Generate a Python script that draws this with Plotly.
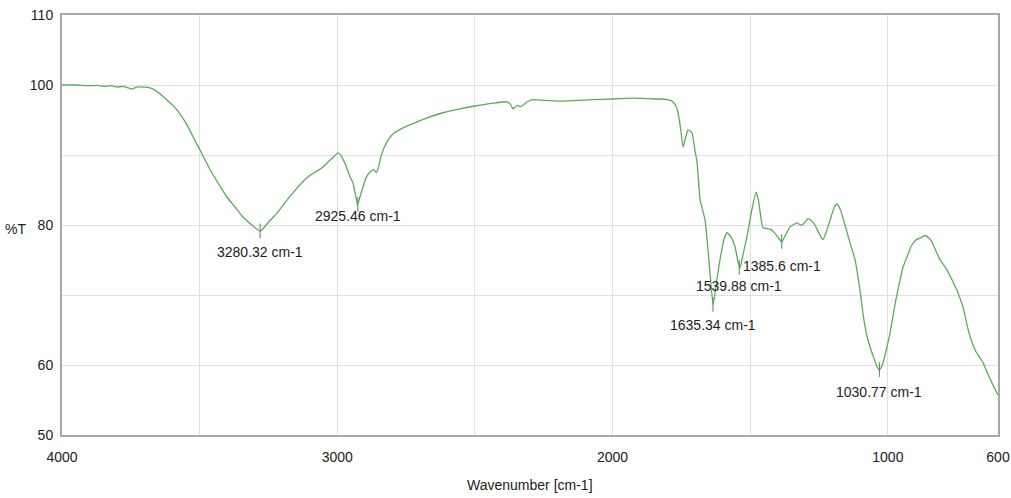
import plotly.graph_objects as go

# ---- data ----
wavenumber = [4000, 3950, 3900, 3870, 3850, 3820, 3800, 3780, 3760, 3745, 3730, 3700, 3680,
              3660, 3640, 3620, 3600, 3582, 3550, 3524, 3500, 3462, 3430, 3401, 3370, 3342,
              3310, 3280, 3250, 3219, 3190, 3161, 3130, 3099, 3070, 3052, 3020, 2997, 2985,
              2970, 2954, 2943, 2935, 2926, 2918, 2910, 2895, 2880, 2868, 2858, 2850, 2840,
              2819, 2798, 2770, 2736, 2700, 2674, 2620, 2554, 2500, 2434, 2384, 2370, 2362,
              2352, 2344, 2336, 2329, 2310, 2289, 2250, 2191, 2130, 2071, 2000, 1948, 1900,
              1850, 1828, 1800, 1784, 1770, 1762, 1752, 1744, 1736, 1726, 1718, 1711, 1700,
              1693, 1682, 1664, 1650, 1635, 1620, 1610, 1595, 1584, 1570, 1555, 1545, 1537,
              1525, 1512, 1495, 1479, 1470, 1465, 1454, 1440, 1428, 1410, 1395, 1385, 1370,
              1356, 1340, 1330, 1318, 1308, 1290, 1278, 1265, 1250, 1236, 1222, 1210, 1195,
              1185, 1175, 1165, 1156, 1140, 1119, 1099, 1090, 1075, 1060, 1050, 1042, 1036,
              1031, 1025, 1018, 1005, 992, 980, 970, 956, 945, 931, 915, 900, 880, 865, 850,
              840, 829, 810, 785, 765, 749, 735, 727, 713, 700, 680, 665, 654, 640, 620, 604,
              600]
transmittance = [100.0, 100.0, 99.9, 99.95, 99.8, 99.9, 99.7, 99.8, 99.6, 99.4, 99.7, 99.7, 99.6,
                 99.2, 98.6, 97.9, 97.2, 96.4, 94.6, 92.6, 90.8, 87.9, 85.8, 84.0, 82.5, 81.1,
                 80.0, 79.1, 80.4, 81.7, 83.2, 84.6, 86.0, 87.1, 87.8, 88.3, 89.5, 90.3, 89.8,
                 88.6, 86.9, 86.0, 84.5, 82.9, 84.0, 85.0, 86.8, 87.6, 87.9, 87.5, 88.3, 90.0,
                 91.9, 93.0, 93.7, 94.3, 94.9, 95.3, 96.0, 96.6, 97.0, 97.4, 97.6, 97.2, 96.6,
                 96.9, 97.1, 96.9, 97.0, 97.6, 97.9, 97.8, 97.7, 97.8, 97.9, 98.0, 98.1, 98.1,
                 98.0, 98.0, 97.9, 97.7, 97.0, 96.0, 93.5, 91.1, 92.3, 93.6, 93.4, 93.1, 90.5,
                 88.9, 83.6, 80.7, 75.0, 68.6, 72.5, 75.0, 78.0, 78.9, 78.3, 76.9, 74.8, 73.9,
                 76.0, 78.3, 82.0, 84.7, 83.5, 82.1, 79.6, 79.5, 79.4, 78.8, 78.0, 77.6, 78.7,
                 79.7, 80.1, 80.3, 80.0, 80.1, 80.9, 80.6, 80.0, 78.8, 77.9, 79.2, 80.7, 82.5,
                 83.0, 82.4, 81.3, 80.0, 77.8, 75.0, 70.0, 67.2, 64.0, 62.0, 60.9, 60.0, 59.5,
                 59.3, 59.6, 60.3, 62.3, 64.6, 67.3, 69.5, 72.1, 74.0, 75.4, 77.0, 77.8, 78.2,
                 78.5, 78.1, 77.6, 76.6, 75.0, 73.6, 72.0, 70.7, 69.2, 68.3, 65.8, 63.9, 61.9,
                 61.0, 60.3, 59.0, 57.3, 56.0, 55.7]

peak_wn = [3280.32, 2925.46, 1635.34, 1539.88, 1385.6, 1030.77]
peak_t = [79.1, 82.9, 68.6, 73.9, 77.6, 59.3]
peak_labels = ["3280.32 cm-1", "2925.46 cm-1", "1635.34 cm-1", "1539.88 cm-1", "1385.6 cm-1", "1030.77 cm-1"]
peak_label_dy = [-21, -11, -20, -18, -24, -22]

x_ticks = [4000, 3000, 2000, 1000, 600]
x_minor = [3500, 2500, 1500]
y_ticks = [50, 60, 80, 100, 110]
y_minor = [70, 90]

LINE = "#5cab5c"
FONT = "Liberation Sans, Arial, sans-serif"

fig = go.Figure()
fig.add_trace(go.Scatter(x=wavenumber, y=transmittance, mode="lines",
                         line=dict(color=LINE, width=1.3, shape="spline", smoothing=0.4),
                         hoverinfo="skip"))

# short peak marker lines
mx, my = [], []
for w, t in zip(peak_wn, peak_t):
    mx += [w, w, None]
    my += [t + 1.1, t - 1.0, None]
fig.add_trace(go.Scatter(x=mx, y=my, mode="lines", line=dict(color="#4e8f4e", width=1),
                         hoverinfo="skip"))

for w, t, lab, dy in zip(peak_wn, peak_t, peak_labels, peak_label_dy):
    fig.add_annotation(x=w, y=t, text=lab, showarrow=False, xref="x", yref="y",
                       yshift=dy, font=dict(family=FONT, size=14, color="#222"))

fig.add_annotation(text="%T", xref="paper", yref="y", x=0, y=80, xanchor="right",
                   xshift=-34, yshift=-4, showarrow=False,
                   font=dict(family=FONT, size=14, color="#222"))
fig.add_annotation(text="Wavenumber [cm-1]", xref="paper", yref="paper", x=0.5, y=0,
                   yanchor="middle", yshift=-50, showarrow=False,
                   font=dict(family=FONT, size=14, color="#222"))

fig.update_layout(
    width=1011, height=498,
    margin=dict(l=62, r=13, t=15, b=63, autoexpand=False),
    paper_bgcolor="white", plot_bgcolor="white",
    showlegend=False,
    xaxis=dict(range=[4000, 600], tickvals=x_ticks, showgrid=True, gridcolor="#e0e0e0",
               gridwidth=1, zeroline=False, showline=True, mirror=True, linecolor="#a8a8a8",
               linewidth=2, ticks="", ticklabelstandoff=8, automargin=False,
               tickfont=dict(family=FONT, size=14, color="#222"),
               minor=dict(tickvals=x_minor, showgrid=True, gridcolor="#e0e0e0", gridwidth=1)),
    yaxis=dict(range=[50, 110], tickvals=y_ticks, showgrid=True, gridcolor="#e0e0e0",
               gridwidth=1, zeroline=False, showline=True, mirror=True, linecolor="#a8a8a8",
               linewidth=2, ticks="", ticklabelstandoff=4, automargin=False,
               tickfont=dict(family=FONT, size=14, color="#222"),
               minor=dict(tickvals=y_minor, showgrid=True, gridcolor="#e0e0e0", gridwidth=1)),
)

fig.write_html("out.html", config={"displayModeBar": False},
               post_script="document.body.style.margin='0';document.body.style.overflow='hidden';")
